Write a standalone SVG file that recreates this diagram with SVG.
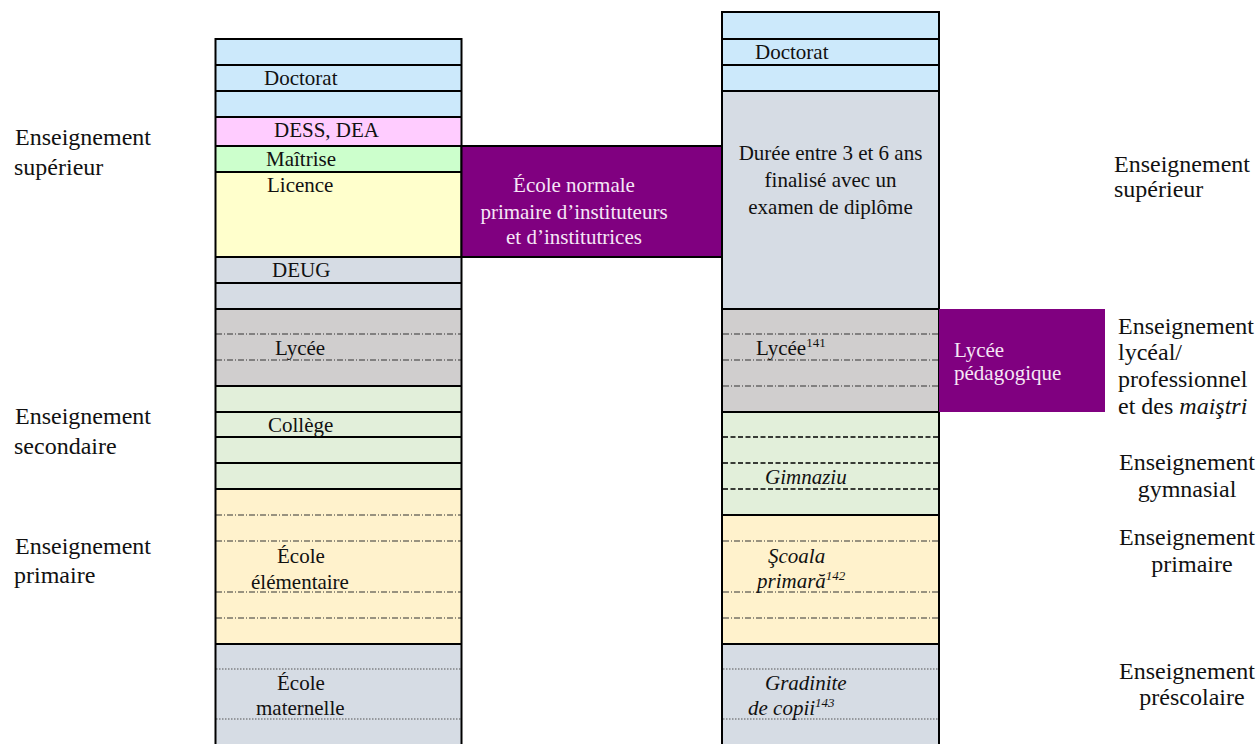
<svg xmlns="http://www.w3.org/2000/svg" width="1259" height="744" viewBox="0 0 1259 744">
<style>
.t{font-family:"Liberation Serif","Times New Roman",serif;font-size:21px;fill:#111}
.lab{font-family:"Liberation Serif","Times New Roman",serif;font-size:24px;fill:#111}
.w{fill:#f6e6f6}
.i{font-style:italic}
.mid{text-anchor:middle}
.sup{font-size:13px}
.solid{stroke:#000;stroke-width:2;fill:none}
.dd{stroke:#333;stroke-width:1;stroke-dasharray:6 2 1 2;fill:none}
.da{stroke:#000;stroke-width:1.5;stroke-dasharray:5 2.5;fill:none}
.dot{stroke:#555;stroke-width:1;stroke-dasharray:1.5 1.5;fill:none}
.blue{fill:#cce9fb}.pink{fill:#ffccff}.grn{fill:#ccffcc}.yel{fill:#ffffcc}
.gb{fill:#d6dce4}.lg{fill:#d0cece}.pg{fill:#e2efda}.py{fill:#fff2cc}
.pur{fill:#800080}
</style>
<rect width="1259" height="744" fill="#fff"/>

<g id="left-column">
<rect class="blue" x="215.5" y="39" width="246" height="78"/>
<rect class="pink" x="215.5" y="117" width="246" height="29"/>
<rect class="grn" x="215.5" y="146" width="246" height="26"/>
<rect class="yel" x="215.5" y="172" width="246" height="85"/>
<rect class="gb" x="215.5" y="257" width="246" height="52"/>
<rect class="lg" x="215.5" y="309" width="246" height="77"/>
<rect class="pg" x="215.5" y="386" width="246" height="103"/>
<rect class="py" x="215.5" y="489" width="246" height="155"/>
<rect class="gb" x="215.5" y="644" width="246" height="102"/>
<path class="solid" d="M215.5 39H461.5M215.5 65H461.5M215.5 91H461.5M215.5 117H461.5M215.5 146H461.5M215.5 172H461.5M215.5 257H461.5M215.5 283H461.5M215.5 309H461.5M215.5 386H461.5M215.5 412H461.5M215.5 437H461.5M215.5 463H461.5M215.5 489H461.5M215.5 644H461.5"/>
<path class="dd" d="M216 334H461M216 360H461M216 515H461M216 541H461M216 592H461M216 618H461"/>
<path class="dot" d="M216 669H461M216 719H461"/>
<path class="solid" d="M215.5 38V746M461.5 38V746"/>
<text class="t" x="264" y="85">Doctorat</text>
<text class="t" x="274" y="137">DESS, DEA</text>
<text class="t" x="266" y="166">Maîtrise</text>
<text class="t" x="267" y="192">Licence</text>
<text class="t" x="272" y="277">DEUG</text>
<text class="t" x="275" y="355">Lycée</text>
<text class="t" x="268" y="432">Collège</text>
<text class="t" x="277" y="563">École</text>
<text class="t" x="251" y="589">élémentaire</text>
<text class="t" x="277" y="690">École</text>
<text class="t" x="256" y="715">maternelle</text>
</g>

<g id="ecole-normale">
<rect class="pur" x="461.5" y="146" width="260.5" height="111" stroke="#000" stroke-width="2"/>
<text class="t w mid" x="574" y="192">École normale</text>
<text class="t w mid" x="574" y="219">primaire d’instituteurs</text>
<text class="t w mid" x="574" y="244">et d’institutrices</text>
</g>

<g id="right-column">
<rect class="blue" x="722" y="12" width="217" height="79"/>
<rect class="gb" x="722" y="91" width="217" height="218"/>
<rect class="lg" x="722" y="309" width="217" height="103"/>
<rect class="pg" x="722" y="412" width="217" height="103"/>
<rect class="py" x="722" y="515" width="217" height="129"/>
<rect class="gb" x="722" y="644" width="217" height="102"/>
<path class="solid" d="M722 12H939M722 39H939M722 65H939M722 91H939M722 309H939M722 412H939M722 515H939M722 644H939"/>
<path class="dd" d="M723 334H938M723 360H938M723 386H938M723 541H938M723 592H938M723 618H938"/>
<path class="da" d="M723 437H938M723 463H938M723 489H938"/>
<path class="dot" d="M723 669H938M723 719H938"/>
<path class="solid" d="M722 11V746M939 11V746"/>
<text class="t" x="755" y="59">Doctorat</text>
<text class="t mid" x="830.5" y="160">Durée entre 3 et 6 ans</text>
<text class="t mid" x="830.5" y="187">finalisé avec un</text>
<text class="t mid" x="830.5" y="214">examen de diplôme</text>
<text class="t" x="756" y="355">Lycée<tspan class="sup" dy="-8">141</tspan></text>
<text class="t i" x="765" y="484">Gimnaziu</text>
<text class="t i" x="768" y="563">Şcoala</text>
<text class="t i" x="757" y="588">primară<tspan class="sup" dy="-8">142</tspan></text>
<text class="t i" x="765" y="690">Gradinite</text>
<text class="t i" x="748" y="715">de copii<tspan class="sup" dy="-8">143</tspan></text>
</g>

<g id="lycee-pedagogique">
<rect class="pur" x="939" y="309" width="166" height="103"/>
<text class="t w" x="954" y="357">Lycée</text>
<text class="t w" x="954" y="380">pédagogique</text>
</g>

<g id="left-labels">
<text class="lab" x="15" y="145">Enseignement</text>
<text class="lab" x="14" y="175">supérieur</text>
<text class="lab" x="15" y="424">Enseignement</text>
<text class="lab" x="14" y="454">secondaire</text>
<text class="lab" x="15" y="554">Enseignement</text>
<text class="lab" x="14" y="583">primaire</text>
</g>

<g id="right-labels">
<text class="lab" x="1114" y="172">Enseignement</text>
<text class="lab" x="1114" y="197">supérieur</text>
<text class="lab" x="1118" y="334">Enseignement</text>
<text class="lab" x="1118" y="360">lycéal/</text>
<text class="lab" x="1118" y="387">professionnel</text>
<text class="lab" x="1118" y="414">et des <tspan class="i">maiştri</tspan></text>
<text class="lab mid" x="1187" y="470">Enseignement</text>
<text class="lab mid" x="1187" y="497">gymnasial</text>
<text class="lab mid" x="1187" y="545">Enseignement</text>
<text class="lab mid" x="1192" y="572">primaire</text>
<text class="lab mid" x="1187" y="679">Enseignement</text>
<text class="lab mid" x="1192" y="705">préscolaire</text>
</g>
</svg>
